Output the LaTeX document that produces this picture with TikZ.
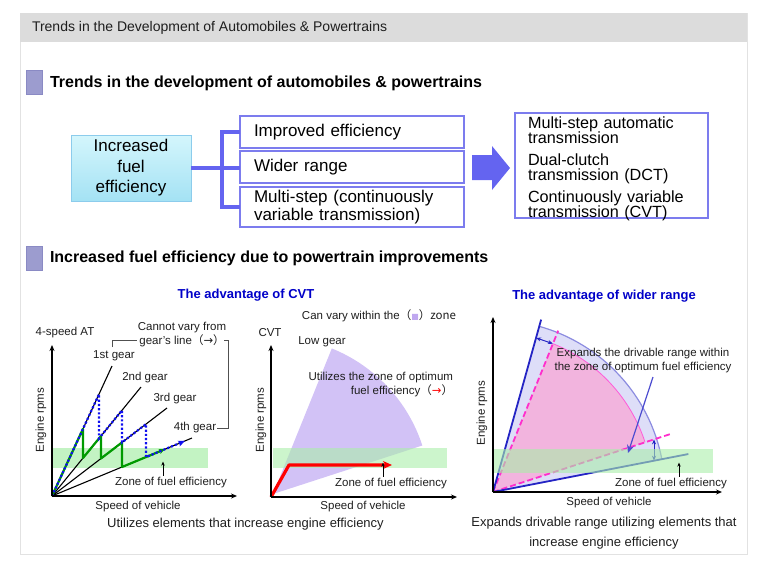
\documentclass[tikz,border=0pt]{standalone}
\usepackage{fontspec}
\setmainfont{Liberation Sans}
\newfontfamily\cjk{Noto Sans CJK JP}
\newfontfamily\symb{DejaVu Sans}
\usetikzlibrary{arrows.meta, positioning}
\setlength{\lineskiplimit}{-20pt}

\definecolor{headgray}{HTML}{DCDCDC}
\definecolor{framegray}{HTML}{E2E2E2}
\definecolor{secsq}{HTML}{9C9CCF}
\definecolor{secsqline}{HTML}{8A8AC4}
\definecolor{brkblue}{HTML}{6464F0}
\definecolor{boxline}{HTML}{7C7CEE}
\definecolor{cyantop}{HTML}{D4F6FC}
\definecolor{cyanbot}{HTML}{A4E2F4}
\definecolor{cyanline}{HTML}{8CCCEC}
\definecolor{titleblue}{HTML}{0000C8}
\definecolor{geargreen}{HTML}{009A00}
\definecolor{dotblue}{HTML}{1010F0}
\definecolor{zonegreen}{HTML}{AAEEAA}
\definecolor{cvtpurple}{HTML}{D2C2F6}
\definecolor{cvtsq}{HTML}{C0A8F0}
\definecolor{lavender}{HTML}{DEDEF8}
\definecolor{arcblue}{HTML}{8C8CE0}
\definecolor{lineblue}{HTML}{2424C4}
\definecolor{pinkfill}{HTML}{F2B4DE}
\definecolor{pinkdash}{HTML}{FF2ECC}
\definecolor{pinkarc}{HTML}{FF5AD8}
\definecolor{longblue}{HTML}{4C4CD0}
\definecolor{labelgray}{HTML}{1E1E1E}
\definecolor{brkgray}{HTML}{505050}

\begin{document}
\begin{tikzpicture}[x=1pt,y=-1pt,>={Stealth[round]},
    every node/.style={inner sep=0pt, outer sep=0pt},
    sec/.style={font=\bfseries\fontsize{16}{19}\selectfont, anchor=west},
    secsquare/.style={fill=secsq, draw=secsqline, line width=.6pt, minimum width=16pt, minimum height=24pt},
    fuel/.style={top color=cyantop, bottom color=cyanbot, draw=cyanline, line width=1pt,
      minimum width=120pt, minimum height=66pt, align=center, font=\fontsize{17}{20.5}\selectfont},
    box/.style={draw=boxline, line width=1.3pt, text width=196pt, inner xsep=14pt, align=left,
      font=\fontsize{17}{18}\selectfont},
    tbox/.style={draw=boxline, line width=1.3pt, minimum width=193pt, minimum height=105pt},
    ttext/.style={anchor=west, text width=175pt, align=left, font=\fontsize{16.2}{15.2}\selectfont},
    brk/.style={draw=brkblue, line width=4pt},
    ctitle/.style={font=\bfseries\fontsize{13}{15}\selectfont, text=titleblue},
    lbl/.style={font=\fontsize{11.5}{14}\selectfont, text=labelgray},
    captext/.style={font=\fontsize{13}{20}\selectfont, text=labelgray, align=center},
    axisarrow/.style={-{Stealth[length=6pt,width=5pt]}, line width=1.2pt},
    uparrow/.style={-{Stealth[length=4pt,width=3.5pt]}, line width=.8pt},
    bracket/.style={draw=brkgray, line width=.8pt},
    zone/.style={fill=zonegreen, fill opacity=.6},
    gear/.style={line width=1.1pt},
    shiftline/.style={draw=geargreen, line width=2.2pt, line join=round, -{Stealth[length=6pt,width=5pt]}},
    dotline/.style={draw=dotblue, line width=2.2pt, dash pattern=on 2.2pt off 2pt, -{Stealth[length=7pt,width=6pt]}},
    dbl/.style={draw=lineblue, line width=1pt, {Stealth[length=5pt,width=4pt]}-{Stealth[length=5pt,width=4pt]}},
  ]
  \useasboundingbox (0,0) rectangle (757,568);

  % frame and header
  \draw[framegray, line width=1pt] (20,13) rectangle (747,554);
  \fill[headgray] (20,13) rectangle (747,42);
  \node[anchor=west, font=\fontsize{14}{16}\selectfont, text=labelgray] (head) at (32,27.5)
    {Trends in the Development of Automobiles \& Powertrains};

  % section 1
  \node[secsquare] (sq1) at (34,82) {};
  \node[sec] (sec1) at (50,83) {Trends in the development of automobiles \& powertrains};

  \node[fuel] (fuel) at (131,168) {Increased\\fuel\\efficiency};
  \node[box, minimum height=32pt] (impr) at (352,132) {Improved efficiency};
  \node[box, minimum height=32pt, below=3pt of impr] (wide) {Wider range};
  \node[box, minimum height=40pt, below=4pt of wide] (multi) {Multi-step (continuously\\variable transmission)};
  \coordinate (fork) at (222,168);
  \draw[brk] (fuel.east) -- (fuel.east -| wide.west);
  \draw[brk] (impr.west) -| (fork) |- (multi.west);
  \fill[brkblue] (472,155) -- (492,155) -- (492,146) -- (510,168) -- (492,190) -- (492,180) -- (472,180) -- cycle;
  \node[tbox] (trans) at (611.5,165.5) {};
  \node[ttext] (transtext) at (528,169) {Multi-step automatic\\transmission\\[6.5pt]Dual-clutch\\transmission (DCT)\\[6.5pt]Continuously variable\\transmission (CVT)};

  % section 2
  \node[secsquare] (sq2) at (34,258) {};
  \node[sec] (sec2) at (50,258) {Increased fuel efficiency due to powertrain improvements};
  \node[ctitle] (t1) at (246,295) {The advantage of CVT};
  \node[ctitle] (t3) at (604,296) {The advantage of wider range};

  % chart 1: 4-speed AT
  \begin{scope}[shift={(52,496)}, yscale=-1]
    \fill[fill=zonegreen!70!white] (1,28) rectangle (156,48);
    \coordinate (o1) at (0,0);
    \foreach \n/\p in {1/{60,130}, 2/{89,109}, 3/{115,88}, 4/{140,58}}
      \draw[gear] (o1) -- (\p) coordinate (g\n);
    \draw[shiftline] (o1) -- (31,67.2) -- (31,38) -- (49,60) -- (49,37.5) -- (70,53.6) -- (70,29) -- (113,46.8);
    \draw[dotline] (o1) -- (47,101.8) -- (47,57.6) -- (70,85.7) -- (70,53.6) -- (94,71.9) -- (94,38.9) -- (133,55.1);
    \draw[axisarrow] (o1) -- (0,151);
    \draw[axisarrow] (o1) -- (185,0);
  \end{scope}
  \node[lbl] (at4) at (65,333) {4-speed AT};
  \node[lbl, rotate=90] (rpm1) at (41,420) {Engine rpms};
  \node[lbl] (sp1) at (138,507) {Speed of vehicle};
  \node[lbl] (l1) at (114,356) {1st gear};
  \node[lbl] (l2) at (145,378) {2nd gear};
  \node[lbl] (l3) at (175,399) {3rd gear};
  \node[lbl] (l4) at (195,428) {4th gear};
  \node[lbl, align=center] (cnv) at (182,335) {Cannot vary from\\gear's line\cjk{（}{\symb →}\cjk{）}};
  \draw[bracket] (112,347) |- (137,340);
  \draw[bracket] ([xshift=1pt]l4.east) -| (228,340) -- ++(-4,0);
  \node[lbl] (z1) at (171,483) {Zone of fuel efficiency};
  \draw[uparrow] ([xshift=-8pt,yshift=2pt]z1.north) -- ++(0,-14);
  \node[captext] (cap1) at (245.5,524) {Utilizes elements that increase engine efficiency};

  % chart 2: CVT
  \begin{scope}[shift={(271,497)}, yscale=-1]
    \coordinate (o2) at (0,0);
    \fill[cvtpurple] (2,3) -- ++(18:157) arc[start angle=18, end angle=68, radius=157] -- cycle;
    \fill[zone] (2,29) rectangle (176,49);
    \draw[red, line width=3.2pt, line join=round, -{Stealth[length=9pt,width=8pt]}] (o2) -- (18,32) -- (121,32);
    \draw[axisarrow] (o2) -- (0,152);
    \draw[axisarrow] (o2) -- (186,0);
  \end{scope}
  \node[lbl] (cvt) at (270,333) {CVT};
  \node[lbl] (vary) at (379,316) {Can vary within the\cjk{（}{\color{cvtsq}\symb\fontsize{8}{8}\selectfont ■}\cjk{）}zone};
  \node[lbl] (low) at (322,342) {Low gear};
  \node[lbl, align=right, anchor=east] (opt) at (453,385) {Utilizes the zone of optimum\\fuel efficiency\cjk{（}{\symb\color{red}→}\cjk{）}};
  \node[lbl, rotate=90] (rpm2) at (261,420) {Engine rpms};
  \node[lbl] (sp2) at (363,507) {Speed of vehicle};
  \node[lbl] (z2) at (391,484) {Zone of fuel efficiency};
  \draw[uparrow] ([xshift=-8pt,yshift=2pt]z2.north) -- ++(0,-14);

  % chart 3: wider range
  \begin{scope}[shift={(493,492)}, yscale=-1]
    \coordinate (o3) at (0,0);
    \fill[lavender] (o3) -- (11:172) arc[start angle=11, end angle=74.4, radius=172] -- cycle;
    \draw[arcblue, line width=1.2pt] (11:172) arc[start angle=11, end angle=74.4, radius=172];
    \fill[pinkfill] (o3) -- (18.1:160) arc[start angle=18.1, end angle=68, radius=160] -- cycle;
    \draw[pinkarc, line width=.8pt] (18.1:160) arc[start angle=18.1, end angle=68, radius=160];
    \draw[pinkdash, line width=1.8pt, dash pattern=on 6pt off 3pt] (o3) -- (68:174);
    \draw[pinkdash, line width=1.8pt, dash pattern=on 6pt off 3pt] (o3) -- (18.1:186);
    \draw[lineblue, line width=1.8pt] (o3) -- (74.4:179);
    \draw[lineblue, line width=1.8pt] (o3) -- (11:199);
    \draw[dbl] (161,52.6) -- (161,31.3);
    \fill[zone] (-1,19) rectangle (220,43);
    \draw[dbl] (74.4:160) -- (68:160);
    \draw[longblue, line width=1.2pt, -{Stealth[length=8pt,width=7pt]}] (160,115) -- (135,39);
    \draw[axisarrow] (o3) -- (0,175);
    \draw[axisarrow] (o3) -- (229,0);
  \end{scope}
  \node[lbl, align=center] (expd) at (643,361) {Expands the drivable range within\\the zone of optimum fuel efficiency};
  \node[lbl, rotate=90] (rpm3) at (482,413) {Engine rpms};
  \node[lbl] (sp3) at (609,503) {Speed of vehicle};
  \node[lbl] (z3) at (671,484) {Zone of fuel efficiency};
  \draw[uparrow] ([xshift=8pt,yshift=2pt]z3.north) -- ++(0,-14);
  \node[captext] (cap3) at (604,533) {Expands drivable range utilizing elements that\\increase engine efficiency};
\end{tikzpicture}
\end{document}
